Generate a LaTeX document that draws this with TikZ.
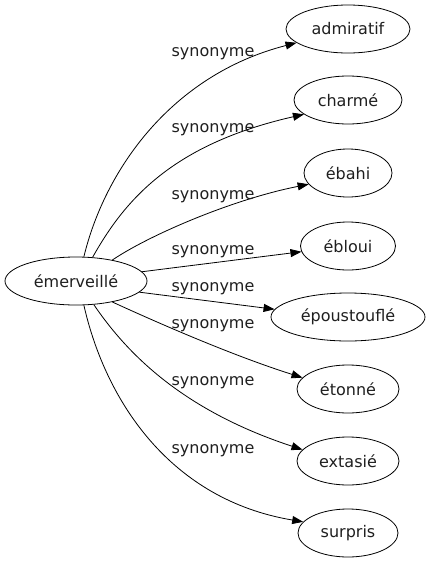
\documentclass[tikz,border=0pt]{standalone}
\usepackage{fontspec}
\setmainfont{DejaVu Sans}
\usepackage{tikz}
\usetikzlibrary{arrows.meta,shapes.geometric}

\begin{document}
\begin{tikzpicture}[x=1pt,y=1pt,
  mot/.style={draw,ellipse,line width=0.8pt,inner sep=0pt,minimum height=48pt,font=\fontsize{16}{19}\selectfont,text=black!88},
  syn/.style={line width=0.8pt,-{Triangle[length=11pt,width=8pt]}},
  lbl/.style={anchor=base,font=\fontsize{16}{19}\selectfont,text=black!88}]
 \useasboundingbox (0,0) rectangle (430,-563);
 \def\xT{348} % colonne des synonymes
 \node[mot,minimum width=142pt] (em) at (76,-281) {émerveillé};
 \node[mot,minimum width=124pt] (adm) at (\xT,-29) {admiratif};
 \node[mot,minimum width=108pt] (cha) at (\xT,-100) {charmé};
 \node[mot,minimum width=88pt] (eba) at (\xT,-173) {ébahi};
 \node[mot,minimum width=95pt] (ebl) at (\xT,-246) {ébloui};
 \node[mot,minimum width=154pt] (epo) at (\xT,-317) {époustouflé};
 \node[mot,minimum width=102pt] (eto) at (\xT,-389) {étonné};
 \node[mot,minimum width=102pt] (ext) at (\xT,-461) {extasié};
 \node[mot,minimum width=100pt] (sur) at (\xT,-533) {surpris};
% arcs
 \draw[syn] (em.72) .. controls +(21,87) and +(-125,-32) .. (adm.195);
 \draw[syn] (em.55) .. controls +(32,57) and +(-132,-30) .. (cha.198);
 \draw[syn] (em.30) .. controls +(37,25) and +(-76,-15) .. (eba.196);
 \draw[syn] (em.8) -- (ebl.187);
 \draw[syn] (em.-10) -- (epo.174);
 \draw[syn] (em.-30) .. controls +(37,-17) and +(-73,23) .. (eto.166);
 \draw[syn] (em.-53) .. controls +(32,-47) and +(-122,40) .. (ext.166);
 \draw[syn] (em.-72) .. controls +(22,-97) and +(-132,22) .. (sur.166);
% etiquettes
 \node[lbl] (l1) at (213,-56) {synonyme};
 \node[lbl] (l2) at (213,-132) {synonyme};
 \node[lbl] (l3) at (213,-199) {synonyme};
 \node[lbl] (l4) at (213,-254) {synonyme};
 \node[lbl] (l5) at (213,-291) {synonyme};
 \node[lbl] (l6) at (213,-328) {synonyme};
 \node[lbl] (l7) at (213,-385) {synonyme};
 \node[lbl] (l8) at (213,-453) {synonyme};
\end{tikzpicture}
\end{document}
